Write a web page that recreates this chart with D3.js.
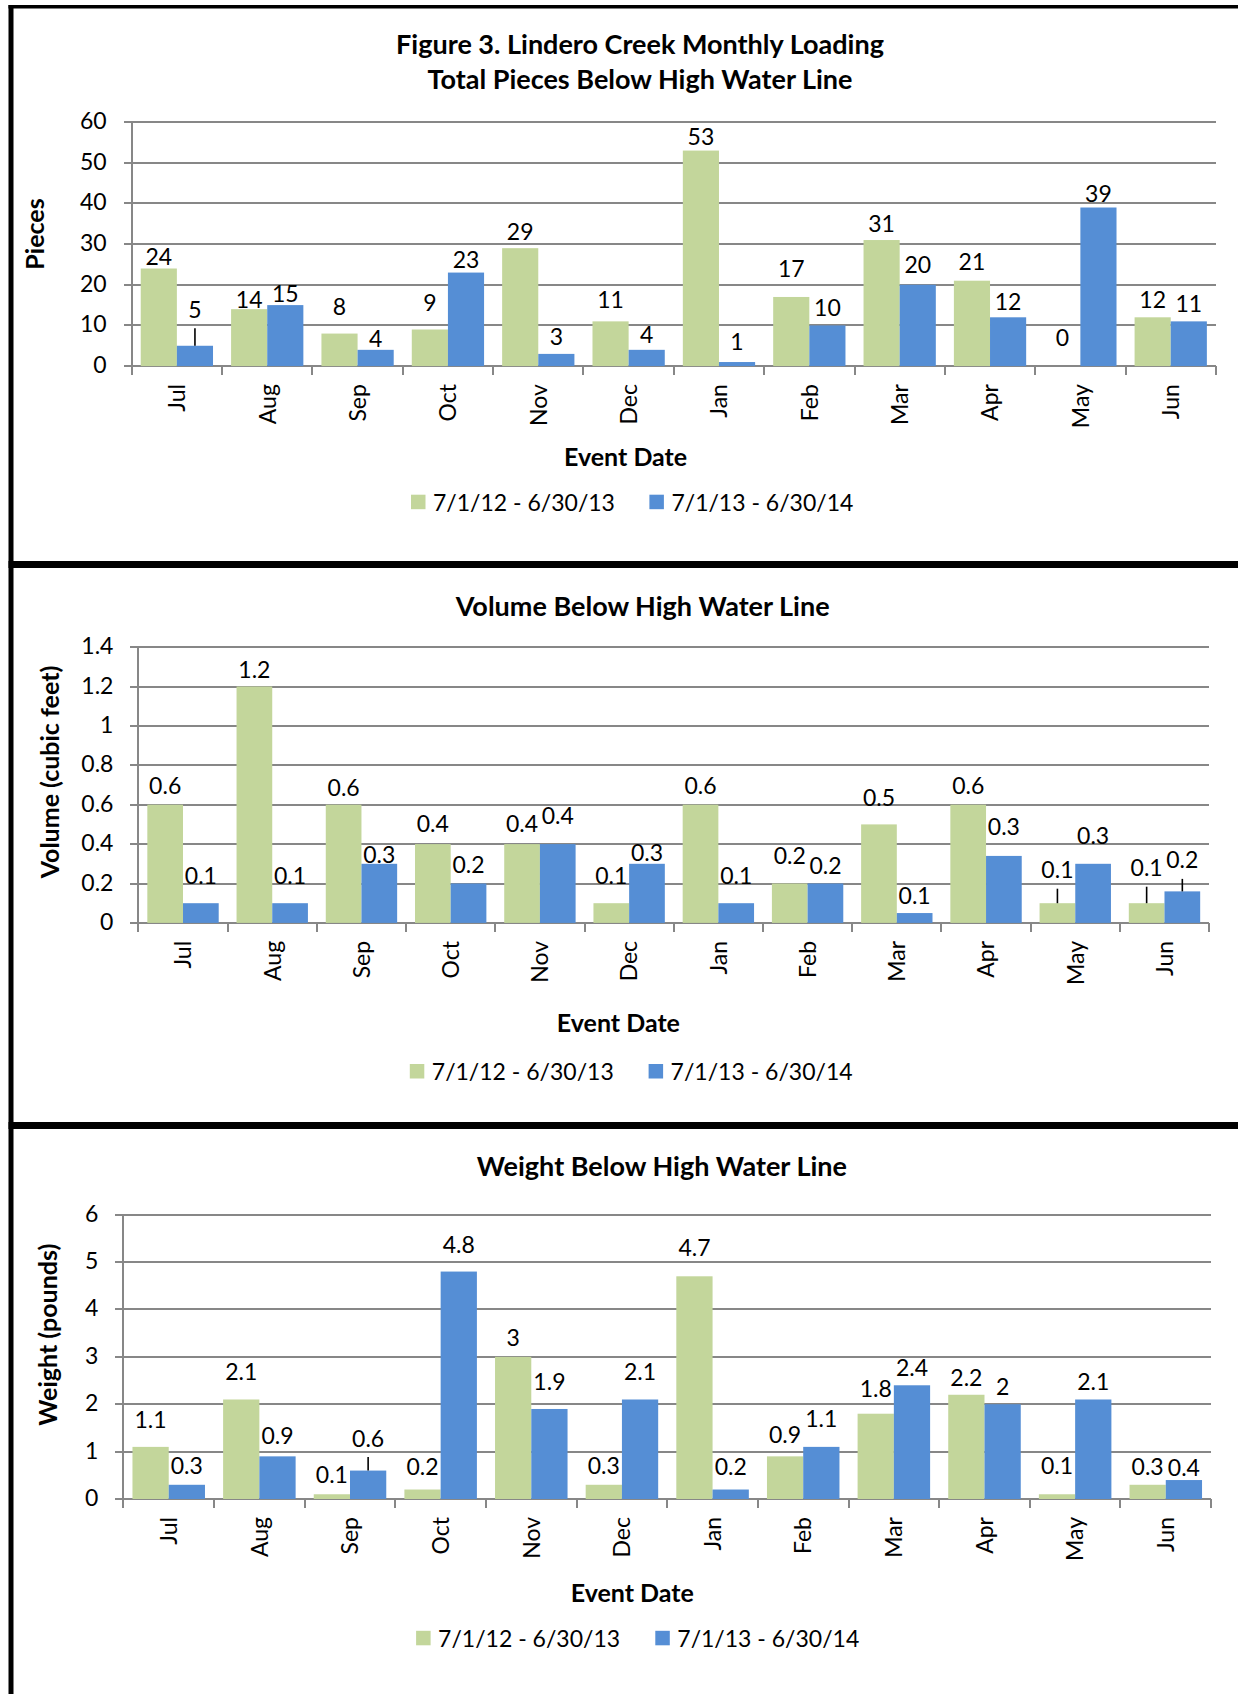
<!DOCTYPE html>
<html>
<head>
<meta charset="utf-8">
<script src="https://cdn.jsdelivr.net/npm/d3@7"></script>
<style>
  html, body { margin: 0; padding: 0; background: #fff; }
  svg { display: block; font-family: Lato, "Open Sans", sans-serif; }
</style>
</head>
<body>
<svg id="fig" width="1238" height="1694"></svg>
<script>
// ---- data ----
const months = ["Jul", "Aug", "Sep", "Oct", "Nov", "Dec", "Jan", "Feb", "Mar", "Apr", "May", "Jun"];
const seriesNames = ["7/1/12 - 6/30/13", "7/1/13 - 6/30/14"];

const piecesFirst  = [24, 14, 8, 9, 29, 11, 53, 17, 31, 21, 0, 12];
const piecesSecond = [5, 15, 4, 23, 3, 4, 1, 10, 20, 12, 39, 11];

const volumeFirst  = [0.6, 1.2, 0.6, 0.4, 0.4, 0.1, 0.6, 0.2, 0.5, 0.6, 0.1, 0.1];
const volumeSecond = [0.1, 0.1, 0.3, 0.2, 0.4, 0.3, 0.1, 0.2, 0.05, 0.34, 0.3, 0.16];

const weightFirst  = [1.1, 2.1, 0.1, 0.2, 3, 0.3, 4.7, 0.9, 1.8, 2.2, 0.1, 0.3];
const weightSecond = [0.3, 0.9, 0.6, 4.8, 1.9, 2.1, 0.2, 1.1, 2.4, 2, 2.1, 0.4];

const piecesTicks = [0, 10, 20, 30, 40, 50, 60];
const volumeTicks = [0, 0.2, 0.4, 0.6, 0.8, 1, 1.2, 1.4];
const weightTicks = [0, 1, 2, 3, 4, 5, 6];

// ---- styling ----
const COLORS = ["#C3D69B", "#558ED5"];
const GRID = "#878787";
const FONT = 23;          // tick, data and legend text
const TITLE_FONT = 27;    // chart titles
const AXIS_TITLE_FONT = 25;

// Data-label placement: distance (px) from bar top to label baseline,
// and which labels get a short leader line down to their bar.
const piecesLift = [
  [4, 1, 19, 19, 8, 13, 6, 20, 8, 11, 20, 9],
  [28, 3, 3, 5, 9, 7, 12, 9, 12, 7, 6, 9]
];
const volumeLift = [
  [11, 9, 9, 12, 12, 19, 11, 20, 18, 11, 25, 27],
  [19, 19, 1, 11, 20, 3, 19, 10, 9, 21, 20, 23]
];
const weightLift = [
  [19, 19, 11, 15, 11, 11, 20, 13, 17, 9, 20, 10],
  [11, 12, 24, 19, 19, 19, 15, 20, 9, 9, 9, 4]
];

const panels = [
  {
    titles: ["Figure 3. Lindero Creek Monthly Loading", "Total Pieces Below High Water Line"],
    titleX: 640, titleY: [53.6, 89.3],
    yTitle: "Pieces", yTitleX: 43.5, yTitleY: 234,
    series: [piecesFirst, piecesSecond], ticks: piecesTicks,
    tickFmt: d => String(d), labelFmt: d => String(d),
    plot: { left: 131.7, right: 1215.9, bottom: 366.1, top: 122.1 },
    xTitleX: 625.6, xTitleY: 466,
    legendY: 510.7, legendX: [433, 671.4],
    lift: piecesLift, leaders: [[1, 0]]
  },
  {
    titles: ["Volume Below High Water Line"],
    titleX: 642.7, titleY: [616.4],
    yTitle: "Volume (cubic feet)", yTitleX: 58.5, yTitleY: 772,
    series: [volumeFirst, volumeSecond], ticks: volumeTicks,
    tickFmt: d => String(d), labelFmt: d3.format(".1f"),
    plot: { left: 138.4, right: 1209.1, bottom: 922.9, top: 647.1 },
    xTitleX: 618.4, xTitleY: 1031.8,
    legendY: 1080, legendX: [431.8, 670.6],
    lift: volumeLift, leaders: [[0, 10], [0, 11], [1, 11]]
  },
  {
    titles: ["Weight Below High Water Line"],
    titleX: 661.9, titleY: [1175.9],
    yTitle: "Weight (pounds)", yTitleX: 56.5, yTitleY: 1334.7,
    series: [weightFirst, weightSecond], ticks: weightTicks,
    tickFmt: d => String(d), labelFmt: d => String(d),
    plot: { left: 123.4, right: 1211.1, bottom: 1499, top: 1214.7 },
    xTitleX: 632.3, xTitleY: 1602.4,
    legendY: 1646.8, legendX: [438.1, 677.3],
    lift: weightLift, leaders: [[1, 2]]
  }
];

const svg = d3.select("#fig");
const W = 1238, H = 1694;

// ---- frame: left rule, top rule and panel separators ----
const frame = svg.append("g").attr("fill", "#000");
frame.append("rect").attr("x", 8.5).attr("y", 5).attr("width", W - 8.5).attr("height", 3.5);
frame.append("rect").attr("x", 8.5).attr("y", 5).attr("width", 5).attr("height", H - 5);
[561, 1122].forEach(yy =>
  frame.append("rect").attr("x", 8.5).attr("y", yy).attr("width", W - 8.5).attr("height", 7)
);

function drawPanel(p) {
  const g = svg.append("g");
  const x = d3.scaleBand().domain(months).range([p.plot.left, p.plot.right]);
  const inner = d3.scaleBand().domain([0, 1]).range([0, x.bandwidth()]).paddingOuter(0.25);
  const y = d3.scaleLinear()
    .domain([p.ticks[0], p.ticks[p.ticks.length - 1]])
    .range([p.plot.bottom, p.plot.top]);

  // title
  p.titles.forEach((t, i) => {
    g.append("text").attr("x", p.titleX).attr("y", p.titleY[i])
      .attr("text-anchor", "middle").attr("font-weight", "bold")
      .attr("font-size", TITLE_FONT).attr("fill", "#000").text(t);
  });

  // horizontal gridlines
  g.append("g").selectAll("line").data(p.ticks).join("line")
    .attr("x1", p.plot.left).attr("x2", p.plot.right)
    .attr("y1", d => Math.round(y(d))).attr("y2", d => Math.round(y(d)))
    .attr("stroke", GRID).attr("stroke-width", 2).attr("shape-rendering", "crispEdges");

  // y axis (tick marks + labels)
  const yAxis = g.append("g")
    .attr("transform", `translate(${p.plot.left},0)`)
    .call(d3.axisLeft(y).tickValues(p.ticks).tickFormat(p.tickFmt)
      .tickSize(8).tickPadding(17).tickSizeOuter(0));
  yAxis.select(".domain").remove();
  yAxis.selectAll(".tick").attr("transform", d => `translate(0,${Math.round(y(d))})`);
  yAxis.selectAll(".tick line").attr("stroke", GRID).attr("stroke-width", 2)
    .attr("shape-rendering", "crispEdges");
  yAxis.selectAll(".tick text").attr("font-size", FONT).attr("fill", "#000")
    .attr("font-family", "Lato, 'Open Sans', sans-serif");

  // y axis line
  g.append("line")
    .attr("x1", p.plot.left).attr("x2", p.plot.left)
    .attr("y1", Math.round(p.plot.top)).attr("y2", Math.round(p.plot.bottom) + 9)
    .attr("stroke", GRID).attr("stroke-width", 2).attr("shape-rendering", "crispEdges");

  // x axis boundary ticks
  const bounds = months.map(m => x(m)).concat([p.plot.right]);
  g.append("g").selectAll("line").data(bounds).join("line")
    .attr("x1", d => d).attr("x2", d => d)
    .attr("y1", Math.round(p.plot.bottom)).attr("y2", Math.round(p.plot.bottom) + 9)
    .attr("stroke", GRID).attr("stroke-width", 2).attr("shape-rendering", "crispEdges");

  // x category labels, rotated
  g.append("g").selectAll("text").data(months).join("text")
    .attr("transform", m => `translate(${x(m) + x.bandwidth() / 2},${p.plot.bottom + 18}) rotate(-90)`)
    .attr("dy", "0.36em").attr("text-anchor", "end")
    .attr("font-size", FONT).attr("fill", "#000").text(m => m);

  // bars
  p.series.forEach((vals, s) => {
    g.append("g").selectAll("rect").data(vals).join("rect")
      .attr("x", (v, i) => x(months[i]) + inner(s))
      .attr("width", inner.bandwidth())
      .attr("y", v => y(v))
      .attr("height", v => y(0) - y(v))
      .attr("fill", COLORS[s]);
  });

  // leader lines
  p.leaders.forEach(([s, i]) => {
    const v = p.series[s][i];
    const cx = x(months[i]) + inner(s) + inner.bandwidth() / 2;
    g.append("line")
      .attr("x1", cx).attr("x2", cx)
      .attr("y1", y(v)).attr("y2", y(v) - (p.lift[s][i] - 10.5))
      .attr("stroke", "#000").attr("stroke-width", 1.6);
  });

  // data labels
  p.series.forEach((vals, s) => {
    g.append("g").selectAll("text").data(vals).join("text")
      .attr("x", (v, i) => x(months[i]) + inner(s) + inner.bandwidth() / 2)
      .attr("y", (v, i) => y(v) - p.lift[s][i])
      .attr("text-anchor", "middle")
      .attr("font-size", FONT).attr("fill", "#000")
      .text(v => p.labelFmt(v));
  });

  // y axis title
  g.append("text")
    .attr("transform", `translate(${p.yTitleX},${p.yTitleY}) rotate(-90)`)
    .attr("text-anchor", "middle").attr("font-weight", "bold")
    .attr("font-size", AXIS_TITLE_FONT).attr("fill", "#000").text(p.yTitle);

  // x axis title
  g.append("text").attr("x", p.xTitleX).attr("y", p.xTitleY)
    .attr("text-anchor", "middle").attr("font-weight", "bold")
    .attr("font-size", AXIS_TITLE_FONT).attr("fill", "#000").text("Event Date");

  // legend
  seriesNames.forEach((name, s) => {
    const tx = p.legendX[s];
    g.append("rect").attr("x", tx - 22).attr("y", p.legendY - 16)
      .attr("width", 14.5).attr("height", 14.5).attr("fill", COLORS[s]);
    g.append("text").attr("x", tx).attr("y", p.legendY)
      .attr("font-size", FONT).attr("fill", "#000").text(name);
  });
}

panels.forEach(drawPanel);
</script>
</body>
</html>
